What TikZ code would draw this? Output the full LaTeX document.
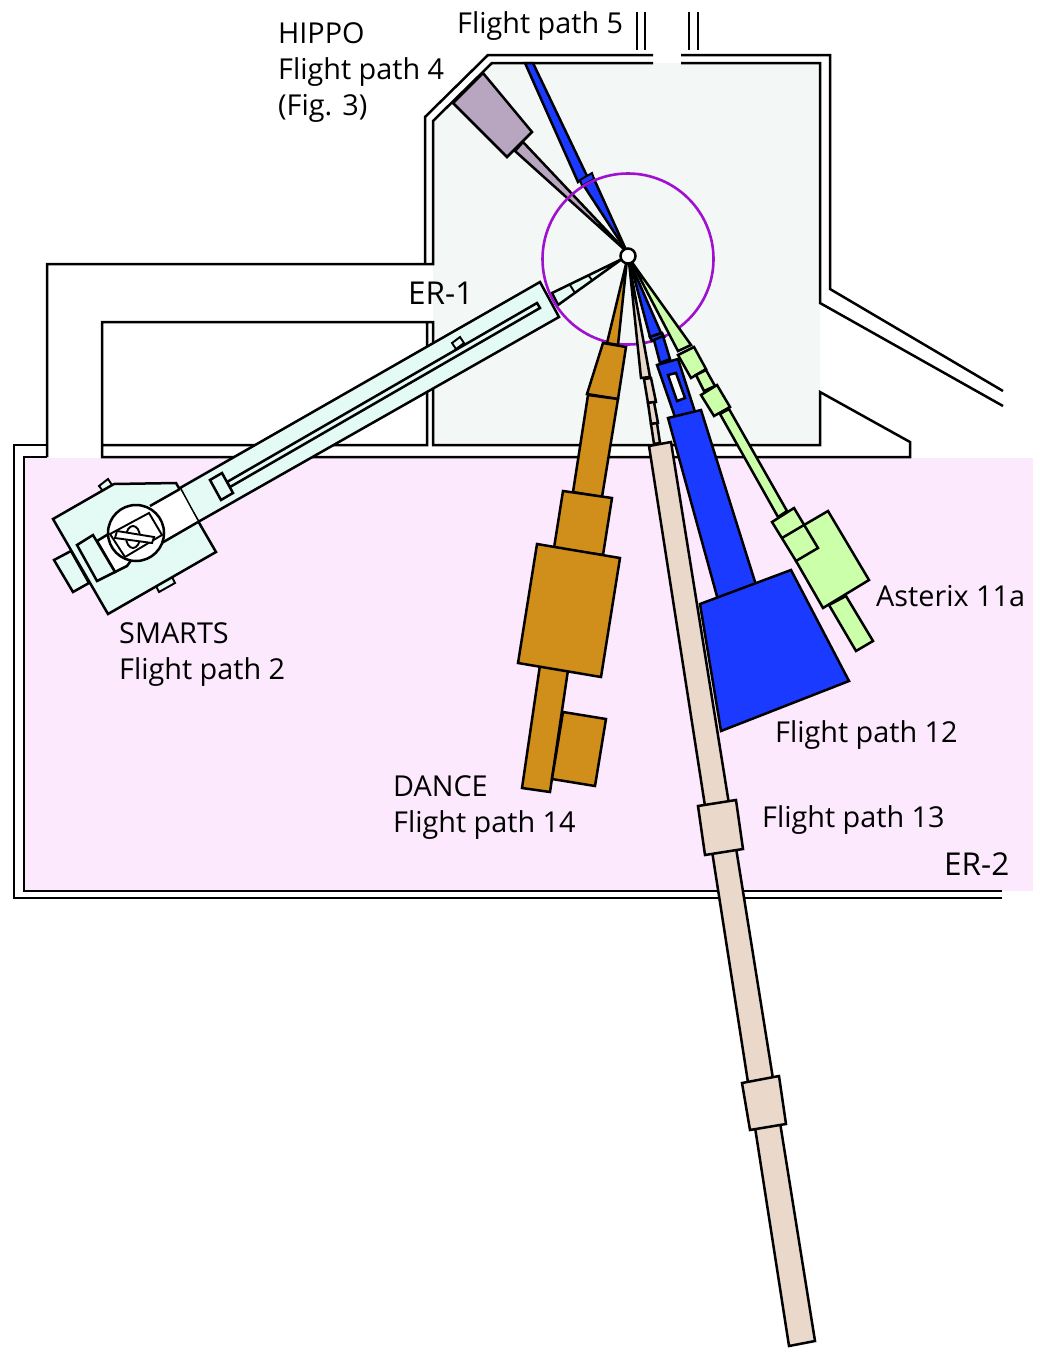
\documentclass[tikz,border=0pt]{standalone}
\usepackage{xcolor}
\usepackage{fontspec}
\setmainfont{Open Sans}
\definecolor{pinkroom}{HTML}{FDE9FD}
\definecolor{paleroom}{HTML}{F3F7F6}
\definecolor{smartsfill}{HTML}{E3FAF5}
\definecolor{hippofill}{HTML}{B8A5BF}
\definecolor{pathblue}{HTML}{1A3AFF}
\definecolor{orangefill}{HTML}{D08E1A}
\definecolor{beigefill}{HTML}{EAD9CB}
\definecolor{greenfill}{HTML}{CCFFAA}
\definecolor{ringcolor}{HTML}{A010D0}
\tikzset{
    wall/.style={line width=2.5pt,line join=miter},
    part/.style={draw=black,line width=2.5pt,line join=miter},
    thinpart/.style={draw=black,line width=1.9pt},
    lbl/.style={anchor=base west,inner sep=0pt,font=\fontsize{28.8}{32}\selectfont},
    biglbl/.style={lbl,font=\fontsize{31.5}{36}\selectfont},
}

\begin{document}
\begin{tikzpicture}[x=1pt,y=-1pt]
    \useasboundingbox (0,0) rectangle (1039,1360);
    % rooms
    \fill[pinkroom] (24,458) rectangle (1033,891);
    \fill[paleroom] (433,121) -- (492,63) -- (820,63) -- (820,445) -- (433,445) -- cycle;
    % walls
    \draw[wall] (47,457) -- (47,264) -- (433,264) -- (433,121) -- (492,63) -- (653,63);
    \draw[wall] (425,264) -- (425,117) -- (488,55) -- (653,55);
    \draw[wall] (681,55) -- (830,55) -- (830,289) -- (1003,391);
    \draw[wall] (681,63) -- (820,63) -- (820,303) -- (1003,406);
    \draw[wall] (102,445) -- (427,445) -- (427,322) -- (102,322) -- (102,457) -- (910,457) -- (910,442) -- (820,392) -- (820,445) -- (433,445) -- (433,322) -- (427,322);
    \draw[wall] (47,445) -- (14,445) -- (14,898) -- (1002,898);
    \draw[wall] (47,457) -- (24,457) -- (24,891) -- (1002,891);
    \foreach \x in {637,645,689,698}
        \draw[wall] (\x,12) -- (\x,50);

    % SMARTS
    \filldraw[part,fill=smartsfill] (622,259) -- (552,293) -- (558,305) -- cycle;
    \draw[thinpart] (570,285) -- (575,293) (588,275) -- (592,280);
    \filldraw[part,fill=smartsfill] (540,282) -- (559,317) -- (198,522) -- (180,488) -- cycle;
    \filldraw[part,fill=smartsfill] (537,303) -- (540,308) -- (230,487) -- (227,482) -- cycle;
    \filldraw[thinpart,fill=smartsfill] (452,343) -- (460,337) -- (464,343) -- (456,349) -- cycle;
    \filldraw[part,fill=smartsfill] (210,480) -- (222,473) -- (233,493) -- (221,500) -- cycle;
    \filldraw[thinpart,fill=smartsfill] (99,486) -- (108,479) -- (112,485) -- (103,491) -- cycle;
    \filldraw[thinpart,fill=smartsfill] (156,586) -- (172,577) -- (175,583) -- (159,592) -- cycle;
    \filldraw[part,fill=smartsfill] (54,560) -- (71,551) -- (89,583) -- (73,592) -- cycle;
    \filldraw[part,fill=smartsfill] (53,519) -- (108,614) -- (216,552) -- (176,483) -- (114,484) -- cycle;
    % white band and shaft, ends hidden under the circle
    \fill[white] (180,489) -- (198,522) -- (140,555) -- (122,523) -- cycle;
    \draw[part] (180,489) -- (150,506) (198,522) -- (160,544);
    \filldraw[part,fill=white] (97,541) -- (115,530) -- (135,555) -- (127,566) -- (115,572) -- cycle;
    \filldraw[part,fill=smartsfill] (77,545) -- (93,535) -- (115,572) -- (97,581) -- cycle;
    \filldraw[part,fill=white] (136,533) circle [radius=28];
    \draw[thinpart] (110,534) -- (149,513) -- (162,535) -- (125,557) -- cycle;
    \filldraw[thinpart,fill=white] (133,537) ellipse [x radius=7,y radius=11];
    \filldraw[thinpart,fill=white] (117,531) -- (154,537) -- (152,543) -- (115,538) -- cycle;

    % HIPPO
    \filldraw[part,fill=hippofill] (625,250) -- (523,142) -- (515,151) -- cycle;
    \filldraw[part,fill=hippofill] (483,73) -- (532,132) -- (507,157) -- (453,103) -- cycle;

    % Flight path 5
    \filldraw[part,fill=pathblue] (525,63) -- (533,63) -- (587,176) -- (578,182) -- cycle;
    \filldraw[part,fill=pathblue] (627,252) -- (594,179) -- (584,186) -- cycle;
    \draw[thinpart,fill=pathblue] (580,180) -- (592,173) -- (594,179) -- (582,186) -- cycle;

    \draw[ringcolor,line width=2.6pt] (628,259) circle [radius=85.5];

    % Flight path 14
    \filldraw[part,fill=orangefill] (627,260) -- (607,343) -- (618,345) -- cycle;
    \filldraw[part,fill=orangefill] (603,343) -- (626,347) -- (618,399) -- (587,394) -- cycle;
    \filldraw[part,fill=orangefill] (588,395) -- (618,399) -- (602,497) -- (573,492) -- cycle;
    \filldraw[part,fill=orangefill] (563,491) -- (612,498) -- (603,555) -- (554,548) -- cycle;
    \filldraw[part,fill=orangefill] (540,665) -- (568,670) -- (550,792) -- (522,788) -- cycle;
    \filldraw[part,fill=orangefill] (537,544) -- (620,558) -- (601,677) -- (518,663) -- cycle;
    \filldraw[part,fill=orangefill] (563,712) -- (606,719) -- (595,786) -- (552,779) -- cycle;

    % Flight path 13
    \filldraw[part,fill=beigefill] (629,262) -- (641,378) -- (650,377) -- cycle;
    \filldraw[part,fill=beigefill] (644,379) -- (651,378) -- (656,402) -- (648,403) -- cycle;
    \filldraw[part,fill=beigefill] (648,403) -- (654,402) -- (658,423) -- (651,424) -- cycle;
    \filldraw[part,fill=beigefill] (651,424) -- (657,423) -- (660,443) -- (654,444) -- cycle;
    \filldraw[part,fill=beigefill] (649,446) -- (671,442) -- (815,1341) -- (789,1346) -- cycle;
    \filldraw[part,fill=beigefill] (698,806) -- (736,800) -- (743,849) -- (705,855) -- cycle;
    \filldraw[part,fill=beigefill] (742,1083) -- (779,1076) -- (786,1124) -- (750,1130) -- cycle;

    % Flight path 12
    \filldraw[part,fill=pathblue] (630,262) -- (650,337) -- (661,333) -- cycle;
    \filldraw[part,fill=pathblue] (650,337) -- (662,333) -- (664,337) -- (652,341) -- cycle;
    \filldraw[part,fill=pathblue] (654,340) -- (663,336) -- (670,359) -- (660,363) -- cycle;
    \filldraw[part,fill=pathblue] (657,365) -- (678,359) -- (695,412) -- (675,417) -- cycle;
    \filldraw[part,fill=white] (668,375) -- (676,373) -- (685,398) -- (677,401) -- cycle;
    \filldraw[part,fill=pathblue] (668,418) -- (701,410) -- (756,585) -- (718,600) -- cycle;
    \filldraw[part,fill=pathblue] (700,604) -- (791,570) -- (849,681) -- (721,731) -- cycle;

    % Asterix
    \filldraw[part,fill=greenfill] (631,261) -- (678,351) -- (691,345) -- cycle;
    \filldraw[part,fill=greenfill] (678,355) -- (694,347) -- (706,369) -- (691,378) -- cycle;
    \filldraw[part,fill=greenfill] (696,375) -- (706,370) -- (715,386) -- (704,391) -- cycle;
    \filldraw[part,fill=greenfill] (701,395) -- (717,385) -- (730,407) -- (714,416) -- cycle;
    \filldraw[part,fill=greenfill] (720,414) -- (729,409) -- (787,511) -- (778,517) -- cycle;
    \filldraw[part,fill=greenfill] (829,605) -- (846,596) -- (873,641) -- (856,651) -- cycle;
    \filldraw[part,fill=greenfill] (804,525) -- (828,511) -- (869,580) -- (823,608) -- (796,561) -- cycle;
    \filldraw[part,fill=greenfill] (772,522) -- (794,508) -- (818,548) -- (796,561) -- cycle;
    \draw[part] (782,538) -- (804,525);

    \filldraw[part,fill=white] (628,256) circle [radius=7.5];

    % labels
    \node[lbl] (hippo) at (278,43) {HIPPO};
    \node[lbl] (fpfour) at (278,79) {Flight path 4};
    \node[lbl] (figref) at (278,115) {(Fig. 3)};
    \node[lbl] (fpfive) at (457,33) {Flight path 5};
    \node[biglbl] (erone) at (408,304) {ER-1};
    \node[lbl] (smarts) at (119,643) {SMARTS};
    \node[lbl] (fptwo) at (119,679) {Flight path 2};
    \node[lbl] (asterix) at (876,606) {Asterix 11a};
    \node[lbl] (fptwelve) at (775,742) {Flight path 12};
    \node[lbl] (dance) at (393,796) {DANCE};
    \node[lbl] (fpfourteen) at (393,832) {Flight path 14};
    \node[lbl] (fpthirteen) at (762,827) {Flight path 13};
    \node[biglbl] (ertwo) at (944,875) {ER-2};
\end{tikzpicture}
\end{document}
